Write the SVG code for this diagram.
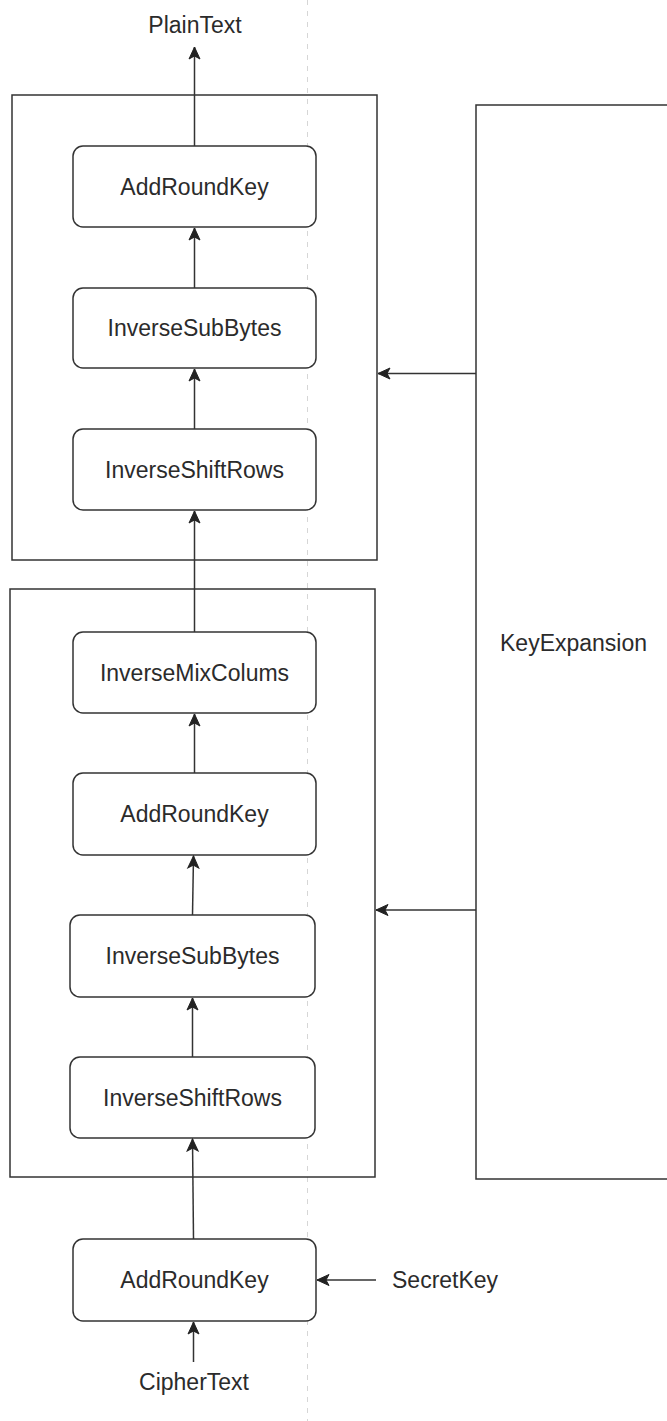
<svg xmlns="http://www.w3.org/2000/svg" width="667" height="1421" viewBox="0 0 667 1421">
<style>
.bg{fill:#ffffff}
.guide{stroke:#d6d6d6;stroke-width:1;stroke-dasharray:5 6;fill:none}
.box{fill:none;stroke:#333;stroke-width:1.5}
.node{fill:#fff;stroke:#333;stroke-width:1.5}
.lbl{font-family:"Liberation Sans",Arial,sans-serif;font-size:23px;fill:#2b2b2b}
.c{text-anchor:middle}
.edge{stroke:#333;stroke-width:1.5;fill:none;marker-end:url(#ah)}
</style>
<defs>
<marker id="ah" markerUnits="userSpaceOnUse" markerWidth="14" markerHeight="14" viewBox="0 0 14 14" refX="13" refY="7" orient="auto">
<path d="M1,1.5 L13,7 L1,12.5 L4,7 Z" fill="#222" stroke="#222" stroke-width="1"/>
</marker>
</defs>
<rect class="bg" x="0" y="0" width="667" height="1421"/>
<line class="guide" x1="307.5" y1="0" x2="307.5" y2="1421"/>

<g id="round-final">
<rect class="box" x="12" y="95" width="365" height="465"/>
</g>
<g id="round-main">
<rect class="box" x="10" y="589" width="365" height="588"/>
</g>
<g id="key-expansion">
<rect class="box" x="476" y="105" width="220" height="1074"/>
<text class="lbl" x="500" y="651">KeyExpansion</text>
</g>

<g id="plaintext"><text class="lbl c" x="195" y="33">PlainText</text></g>
<g id="ark-top"><rect class="node" x="73" y="146" width="243" height="81" rx="10"/><text class="lbl c" x="194.5" y="195">AddRoundKey</text></g>
<g id="isb-top"><rect class="node" x="73" y="288" width="243" height="80" rx="10"/><text class="lbl c" x="194.5" y="336">InverseSubBytes</text></g>
<g id="isr-top"><rect class="node" x="73" y="429" width="243" height="81" rx="10"/><text class="lbl c" x="194.5" y="478">InverseShiftRows</text></g>

<g id="imc"><rect class="node" x="73" y="632" width="243" height="81" rx="10"/><text class="lbl c" x="194.5" y="681">InverseMixColums</text></g>
<g id="ark-mid"><rect class="node" x="73" y="773" width="243" height="82" rx="10"/><text class="lbl c" x="194.5" y="822">AddRoundKey</text></g>
<g id="isb-mid"><rect class="node" x="70" y="915" width="245" height="82" rx="10"/><text class="lbl c" x="192.5" y="964">InverseSubBytes</text></g>
<g id="isr-mid"><rect class="node" x="70" y="1057" width="245" height="81" rx="10"/><text class="lbl c" x="192.5" y="1106">InverseShiftRows</text></g>

<g id="ark-init"><rect class="node" x="73" y="1239" width="243" height="82" rx="10"/><text class="lbl c" x="194.5" y="1288">AddRoundKey</text></g>
<g id="secretkey"><text class="lbl" x="392" y="1288">SecretKey</text></g>
<g id="ciphertext"><text class="lbl c" x="194" y="1390">CipherText</text></g>

<g id="connectors">
<line class="edge" x1="194.5" y1="146" x2="194.5" y2="47"/>
<line class="edge" x1="194.5" y1="288" x2="194.5" y2="228"/>
<line class="edge" x1="194.5" y1="429" x2="194.5" y2="369"/>
<line class="edge" x1="194.5" y1="632" x2="194.5" y2="511"/>
<line class="edge" x1="194.5" y1="773" x2="194.5" y2="714"/>
<line class="edge" x1="192.5" y1="915" x2="193.5" y2="856"/>
<line class="edge" x1="192.5" y1="1057" x2="192.5" y2="998"/>
<line class="edge" x1="193.5" y1="1239" x2="192.5" y2="1139"/>
<line class="edge" x1="193.5" y1="1362" x2="193.5" y2="1322"/>
<line class="edge" x1="376" y1="1280" x2="317" y2="1280"/>
<line class="edge" x1="476" y1="373.5" x2="378" y2="373.5"/>
<line class="edge" x1="476" y1="910" x2="376" y2="910"/>
</g>
</svg>
